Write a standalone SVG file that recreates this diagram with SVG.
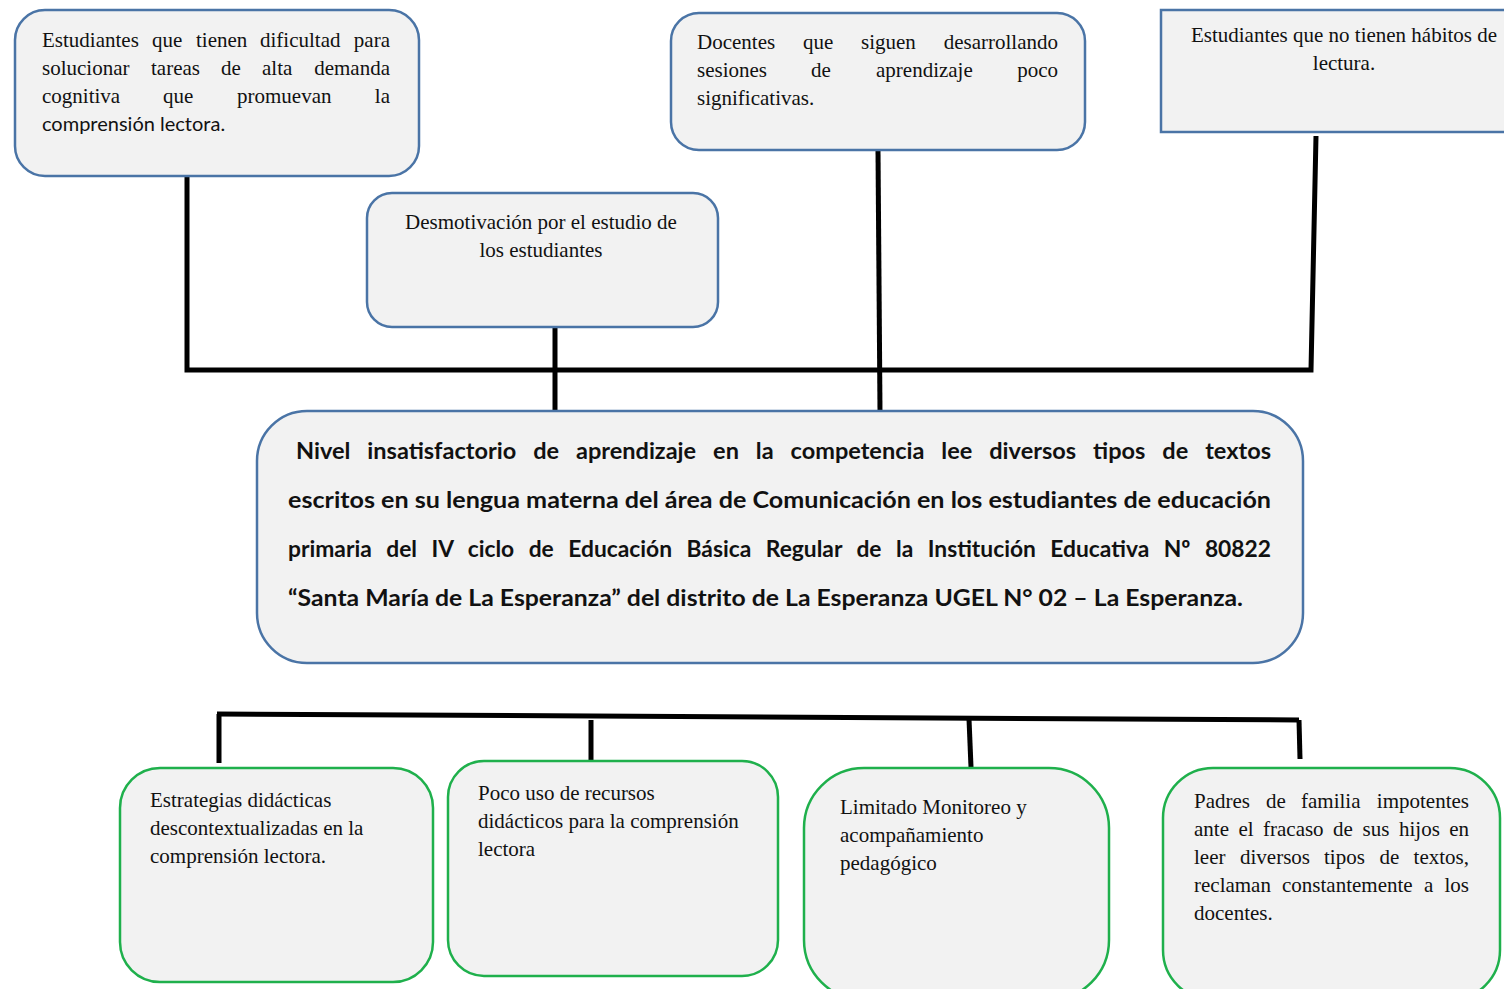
<svg xmlns="http://www.w3.org/2000/svg" width="1504" height="989" viewBox="0 0 1504 989">
<style>
.bx{fill:#f2f2f2;stroke:#4a74a6;stroke-width:2.5}
.gb{fill:#f2f2f2;stroke:#1fb04c;stroke-width:2.5}
.t{font-family:"Liberation Serif",serif;font-size:21px;fill:#111}
.s{font-family:Lato,"Open Sans",sans-serif;font-size:20px;fill:#111}
.b{font-family:Lato,"Open Sans",sans-serif;font-size:23px;font-weight:bold;fill:#111}
.e{text-anchor:end}
.c{fill:none;stroke:#000;stroke-width:5}
</style>
<rect width="1504" height="989" fill="#fff"/>
<g id="connectors">
<polyline class="c" points="187,176 187,370 1311,370 1316,136"/>
<line class="c" x1="555" y1="327" x2="555" y2="411"/>
<line class="c" x1="878" y1="150" x2="880" y2="411"/>
<line class="c" x1="217" y1="714" x2="1299" y2="720"/>
<line class="c" x1="219" y1="714" x2="219" y2="763"/>
<line class="c" x1="591" y1="720" x2="591" y2="763"/>
<line class="c" x1="969" y1="719" x2="971" y2="767"/>
<line class="c" x1="1299" y1="720" x2="1300" y2="759"/>
</g>
<g id="n1">
<rect class="bx" x="15" y="10" width="404" height="166" rx="30"/>
<text class="t" y="47"><tspan x="42">Estudiantes</tspan><tspan x="152">que</tspan><tspan x="196">tienen</tspan><tspan x="260">dificultad</tspan><tspan class="e" x="390">para</tspan></text>
<text class="t" y="75"><tspan x="42">solucionar</tspan><tspan x="151">tareas</tspan><tspan x="221">de</tspan><tspan x="262">alta</tspan><tspan class="e" x="390">demanda</tspan></text>
<text class="t" y="103"><tspan x="42">cognitiva</tspan><tspan x="163">que</tspan><tspan x="237">promuevan</tspan><tspan class="e" x="390">la</tspan></text>
<text class="s" x="42" y="131">comprensión lectora.</text>
</g>
<g id="n2">
<rect class="bx" x="671" y="13" width="414" height="137" rx="28"/>
<text class="t" y="49"><tspan x="697">Docentes</tspan><tspan x="803">que</tspan><tspan x="861">siguen</tspan><tspan class="e" x="1058">desarrollando</tspan></text>
<text class="t" y="77"><tspan x="697">sesiones</tspan><tspan x="811">de</tspan><tspan x="876">aprendizaje</tspan><tspan class="e" x="1058">poco</tspan></text>
<text class="t" x="697" y="105">significativas.</text>
</g>
<g id="n3">
<rect class="bx" x="1161" y="10" width="350" height="122"/>
<text class="t" x="1344" y="42" text-anchor="middle">Estudiantes que no tienen hábitos de</text>
<text class="t" x="1344" y="70" text-anchor="middle">lectura.</text>
</g>
<g id="n4">
<rect class="bx" x="367" y="193" width="351" height="134" rx="25"/>
<text class="t" x="541" y="229" text-anchor="middle">Desmotivación por el estudio de</text>
<text class="t" x="541" y="257" text-anchor="middle">los estudiantes</text>
</g>
<g id="center">
<rect class="bx" x="257" y="411" width="1046" height="252" rx="50"/>
<text class="b" x="296" y="459" word-spacing="11" textLength="975" lengthAdjust="spacingAndGlyphs">Nivel insatisfactorio de aprendizaje en la competencia lee diversos tipos de textos</text>
<text class="b" x="288" y="508" textLength="983" lengthAdjust="spacingAndGlyphs">escritos en su lengua materna del área de Comunicación en los estudiantes de educación</text>
<text class="b" x="288" y="557" word-spacing="9" textLength="983" lengthAdjust="spacingAndGlyphs">primaria del IV ciclo de Educación Básica Regular de la Institución Educativa Nº 80822</text>
<text class="b" x="288" y="606" textLength="955" lengthAdjust="spacingAndGlyphs">“Santa María de La Esperanza” del distrito de La Esperanza UGEL N° 02 – La Esperanza.</text>
</g>
<g id="b1">
<rect class="gb" x="120" y="768" width="313" height="214" rx="40"/>
<text class="t" x="150" y="807">Estrategias didácticas</text>
<text class="t" x="150" y="835">descontextualizadas en la</text>
<text class="t" x="150" y="863">comprensión lectora.</text>
</g>
<g id="b2">
<rect class="gb" x="448" y="761" width="330" height="215" rx="36"/>
<text class="t" x="478" y="800">Poco uso de recursos</text>
<text class="t" x="478" y="828">didácticos para la comprensión</text>
<text class="t" x="478" y="856">lectora</text>
</g>
<g id="b3">
<rect class="gb" x="804" y="768" width="305" height="232" rx="60"/>
<text class="t" x="840" y="814">Limitado Monitoreo y</text>
<text class="t" x="840" y="842">acompañamiento</text>
<text class="t" x="840" y="870">pedagógico</text>
</g>
<g id="b4">
<rect class="gb" x="1163" y="768" width="337" height="232" rx="50"/>
<text class="t" y="808"><tspan x="1194">Padres</tspan><tspan x="1266">de</tspan><tspan x="1301">familia</tspan><tspan class="e" x="1469">impotentes</tspan></text>
<text class="t" y="836"><tspan x="1194">ante</tspan><tspan x="1238.5">el</tspan><tspan x="1263">fracaso</tspan><tspan x="1333">de</tspan><tspan x="1362.5">sus</tspan><tspan x="1399">hijos</tspan><tspan class="e" x="1469">en</tspan></text>
<text class="t" y="864"><tspan x="1194">leer</tspan><tspan x="1240">diversos</tspan><tspan x="1324">tipos</tspan><tspan x="1379.5">de</tspan><tspan class="e" x="1469">textos,</tspan></text>
<text class="t" y="892"><tspan x="1194">reclaman</tspan><tspan x="1282">constantemente</tspan><tspan x="1424">a</tspan><tspan class="e" x="1469">los</tspan></text>
<text class="t" x="1194" y="920">docentes.</text>
</g>
</svg>
